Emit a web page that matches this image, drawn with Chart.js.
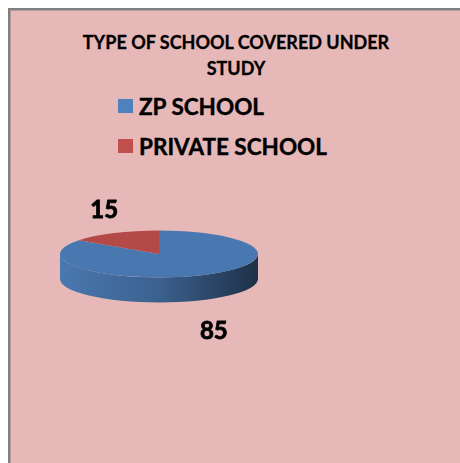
<!DOCTYPE html>
<html>
<head>
<meta charset="utf-8">
<script src="https://cdn.jsdelivr.net/npm/chart.js@4.4.1/dist/chart.umd.min.js"></script>
<style>
  body { margin: 0; background: #fff; font-family: Lato, "DejaVu Sans", sans-serif; overflow: hidden; }
  #frame {
    position: absolute; left: 8px; top: 8px; width: 450px; height: 470px;
    background: #E6B9B8;
    border-left: 2px solid #7f7f7f; border-top: 2px solid #7f7f7f;
    box-shadow: inset 1px 1px 0 #b49d9d;
  }
  #title {
    position: absolute; left: 10px; top: 29px; width: 452px;
    text-align: center; font-weight: 700; font-size: 18px; line-height: 26px; color: #000;
    -webkit-text-stroke: 0.3px #000;
  }
  #legend { position: absolute; left: 118px; top: 86px; }
  .item {
    display: flex; align-items: center; height: 40px; font-weight: 700; font-size: 22.5px; color: #000;
    -webkit-text-stroke: 0.4px #000;
  }
  .box { width: 15px; height: 14px; margin-right: 6px; }
  canvas { position: absolute; left: 0; top: 0; }
</style>
</head>
<body>
<div id="frame"></div>
<div id="title"></div>
<div id="legend"></div>
<canvas id="chart" width="460" height="463"></canvas>
<script>
const titleLines = ['TYPE OF SCHOOL COVERED UNDER', 'STUDY'];
const schoolTypes = ['ZP SCHOOL', 'PRIVATE SCHOOL'];
const schoolCounts = [85, 15];
const sliceColors = ['#4F81BD', '#C0504D'];

// flattening and thickness of the tilted pie
const TILT = 0.237;
const DEPTH = 25;

function shade(hex, f) {
    var n = parseInt(hex.slice(1), 16);
    var r = Math.round(((n >> 16) & 255) * f);
    var g = Math.round(((n >> 8) & 255) * f);
    var b = Math.round((n & 255) * f);
    return 'rgb(' + r + ',' + g + ',' + b + ')';
}

document.getElementById('title').innerHTML = titleLines.join('<br>');

var legend = document.getElementById('legend');
schoolTypes.forEach(function (name, i) {
    var item = document.createElement('div');
    item.className = 'item';
    var box = document.createElement('span');
    box.className = 'box';
    box.style.background = sliceColors[i];
    item.appendChild(box);
    item.appendChild(document.createTextNode(name));
    legend.appendChild(item);
});

// draws the pie wall, squashes the top face and writes the values
var tiltedPie = {
    id: 'tiltedPie',
    beforeDatasetsDraw: function (chart) {
        var ctx = chart.ctx;
        var arcs = chart.getDatasetMeta(0).data;
        var cx = arcs[0].x, cy = arcs[0].y, r = arcs[0].outerRadius;

        arcs.forEach(function (arc, i) {
            var c = sliceColors[i];
            for (var k = -1; k <= 1; k++) {
                var lo = Math.max(arc.startAngle, 2 * Math.PI * k);
                var hi = Math.min(arc.endAngle, 2 * Math.PI * k + Math.PI);
                if (hi <= lo) continue;
                ctx.beginPath();
                ctx.ellipse(cx, cy, r, r * TILT, 0, lo, hi);
                ctx.ellipse(cx, cy + DEPTH, r, r * TILT, 0, hi, lo, true);
                ctx.closePath();
                var g = ctx.createLinearGradient(cx - r, 0, cx + r, 0);
                g.addColorStop(0, shade(c, 0.93));
                g.addColorStop(0.5, shade(c, 0.75));
                g.addColorStop(1, shade(c, 0.38));
                ctx.fillStyle = g;
                ctx.fill();
            }
        });

        ctx.save();
        ctx.translate(cx, cy);
        ctx.scale(1, TILT);
        ctx.translate(-cx, -cy);
    },
    afterDatasetsDraw: function (chart) {
        var ctx = chart.ctx;
        ctx.restore();

        var data = chart.data.datasets[0].data;
        ctx.save();
        ctx.font = 'bold 24px Lato';
        ctx.fillStyle = '#000';
        ctx.strokeStyle = '#000';
        ctx.lineWidth = 0.8;
        ctx.textAlign = 'center';
        ctx.textBaseline = 'middle';
        chart.getDatasetMeta(0).data.forEach(function (arc, i) {
            var mid = (arc.startAngle + arc.endAngle) / 2;
            var dx = Math.cos(mid), dy = Math.sin(mid);
            var x = arc.x + dx * arc.outerRadius * 1.22;
            var y = arc.y + dy * arc.outerRadius * TILT + (dy > 0 ? DEPTH + 31 : -23);
            ctx.fillText(String(data[i]), x, y);
            ctx.strokeText(String(data[i]), x, y);
        });
        ctx.restore();
    }
};

var chart = new Chart(document.getElementById('chart').getContext('2d'), {
    type: 'pie',
    data: {
        labels: schoolTypes,
        datasets: [{
            data: schoolCounts,
            backgroundColor: sliceColors.map(function (c) { return shade(c, 0.93); }),
            borderWidth: 0
        }]
    },
    options: {
        responsive: false,
        devicePixelRatio: 1,
        animation: false,
        events: [],
        layout: {
            padding: { left: 60, right: 202, top: 155, bottom: 110 }
        },
        plugins: {
            legend: { display: false },
            title: { display: false },
            tooltip: { enabled: false }
        }
    },
    plugins: [tiltedPie]
});
</script>
</body>
</html>
